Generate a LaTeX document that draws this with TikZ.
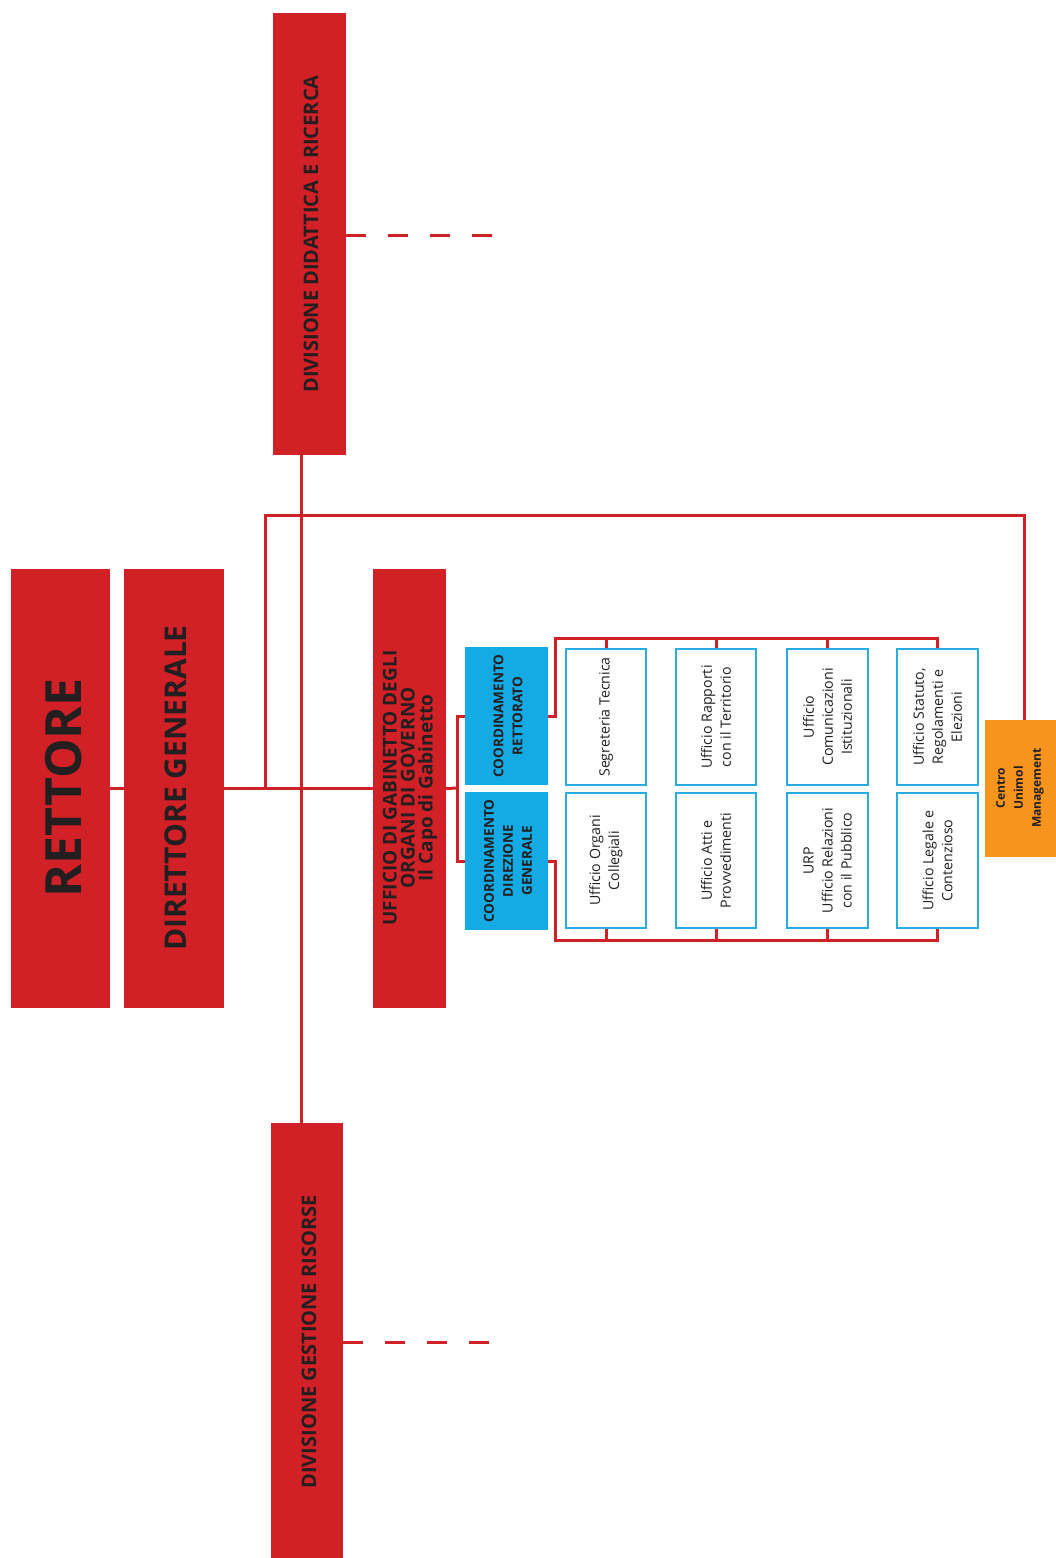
\documentclass[tikz,border=0pt]{standalone}
\usepackage{fontspec}
\setmainfont{Open Sans}
\usetikzlibrary{fit}
\definecolor{cred}{RGB}{210,32,39}
\definecolor{cblue}{RGB}{20,170,228}
\definecolor{cborder}{RGB}{41,171,226}
\definecolor{corange}{RGB}{247,148,30}
\definecolor{ctext}{RGB}{35,31,32}
\begin{document}
\begin{tikzpicture}[x=1pt,y=-1pt,
  redbox/.style={fill=cred,inner sep=0pt},
  bluebox/.style={fill=cblue,inner sep=0pt},
  officebox/.style={draw=cborder,line width=2pt,fill=white,inner sep=0pt},
  orangebox/.style={fill=corange,inner sep=0pt},
  txt/.style={rotate=90,text=ctext,align=center,inner sep=0pt},
  officetxt/.style={txt,font=\fontsize{14.2}{19}\selectfont},
  link/.style={draw=cred,line width=3pt},
  dashlink/.style={draw=cred,line width=3pt,dash pattern=on 20pt off 22pt}]
\useasboundingbox (0,0) rectangle (1056,1558);
% main boxes
\node[redbox,fit={(11,569) (110,1008)}] (ret) {};
\node[redbox,fit={(124,569) (224,1008)}] (dg) {};
\node[redbox,fit={(373,569) (446,1008)}] (gab) {};
\node[redbox,fit={(273,13) (346,455)}] (ddr) {};
\node[redbox,fit={(271,1123) (343,1561)}] (dgr) {};
\node[bluebox,fit={(465,647) (548,785)}] (cr) {};
\node[bluebox,fit={(465,792) (548,930)}] (cdg) {};
\node[orangebox,fit={(985,720) (1063,857)}] (cum) {};
% offices
\node[officebox,fit={(566,649) (646,785)}] (o11) {};
\node[officebox,fit={(566,793) (646,928)}] (o12) {};
\node[officebox,fit={(676,649) (756,785)}] (o21) {};
\node[officebox,fit={(676,793) (756,928)}] (o22) {};
\node[officebox,fit={(787,649) (868,785)}] (o31) {};
\node[officebox,fit={(787,793) (868,928)}] (o32) {};
\node[officebox,fit={(897,649) (978,785)}] (o41) {};
\node[officebox,fit={(897,793) (978,928)}] (o42) {};
% texts
\node[txt,font=\fontsize{50}{56}\selectfont\bfseries] (ret-t) at (64,788) {RETTORE};
\node[txt,font=\fontsize{30}{34}\selectfont\bfseries] (dg-t) at (176,788) {DIRETTORE GENERALE};
\node[txt,font=\fontsize{19}{18}\selectfont\bfseries] (gab-t) at (410,788) {UFFICIO DI GABINETTO DEGLI\\ORGANI DI GOVERNO\\Il Capo di Gabinetto};
\node[txt,font=\fontsize{20}{24}\selectfont\bfseries] (ddr-t) at (311,234) {DIVISIONE DIDATTICA E RICERCA};
\node[txt,font=\fontsize{20}{24}\selectfont\bfseries] (dgr-t) at (309,1342) {DIVISIONE GESTIONE RISORSE};
\node[txt,font=\fontsize{13.5}{19}\selectfont\bfseries] (cr-t) at (508,716) {COORDINAMENTO\\RETTORATO};
\node[txt,font=\fontsize{13.5}{19}\selectfont\bfseries] (cdg-t) at (508,861) {COORDINAMENTO\\DIREZIONE\\GENERALE};
\node[txt,font=\fontsize{12}{18}\selectfont\bfseries] (cum-t) at (1020,788) {Centro\\Unimol\\Management};
\node[officetxt] (o11-t) at (o11) {Segreteria Tecnica};
\node[officetxt] (o12-t) at (o12) {Ufficio Organi\\Collegiali};
\node[officetxt] (o21-t) at (o21) {Ufficio Rapporti\\con il Territorio};
\node[officetxt] (o22-t) at (o22) {Ufficio Atti e\\Provvedimenti};
\node[officetxt] (o31-t) at (o31) {Ufficio\\Comunicazioni\\Istituzionali};
\node[officetxt] (o32-t) at (o32) {URP\\Ufficio Relazioni\\con il Pubblico};
\node[officetxt] (o41-t) at (o41) {Ufficio Statuto,\\Regolamenti e\\Elezioni};
\node[officetxt] (o42-t) at (o42) {Ufficio Legale e\\Contenzioso};
% coordinates
\coordinate (sp) at (301,788);
\coordinate (fr) at (265,515);
\coordinate (gb) at (457,788);
\coordinate (topbar) at (555,638);
\coordinate (botbar) at (555,940);
\coordinate (ddr-end) at (497,235);
\coordinate (dgr-end) at (497,1342);
% connectors
\draw[link] (ret.east) -- (dg.west);
\draw[link] (dg.east) -- (gab.west);
\draw[link] (sp |- ddr.south) -- (sp |- dgr.north);
\draw[link] (fr |- dg.east) -- (fr) -| (cum.north);
\draw[link] (gab.east) -- (gb);
\draw[link] (cr.west) -| (gb) |- (cdg.west);
\draw[link] (cr.east) -| (topbar) -| (o41.north);
\draw[link] (cdg.east) -| (botbar) -| (o42.south);
\draw[link] (o11.north) -- (o11.north |- topbar);
\draw[link] (o21.north) -- (o21.north |- topbar);
\draw[link] (o31.north) -- (o31.north |- topbar);
\draw[link] (o12.south) -- (o12.south |- botbar);
\draw[link] (o22.south) -- (o22.south |- botbar);
\draw[link] (o32.south) -- (o32.south |- botbar);
\draw[dashlink] (ddr.east |- ddr-end) -- (ddr-end);
\draw[dashlink] (dgr.east |- dgr-end) -- (dgr-end);
\end{tikzpicture}
\end{document}
